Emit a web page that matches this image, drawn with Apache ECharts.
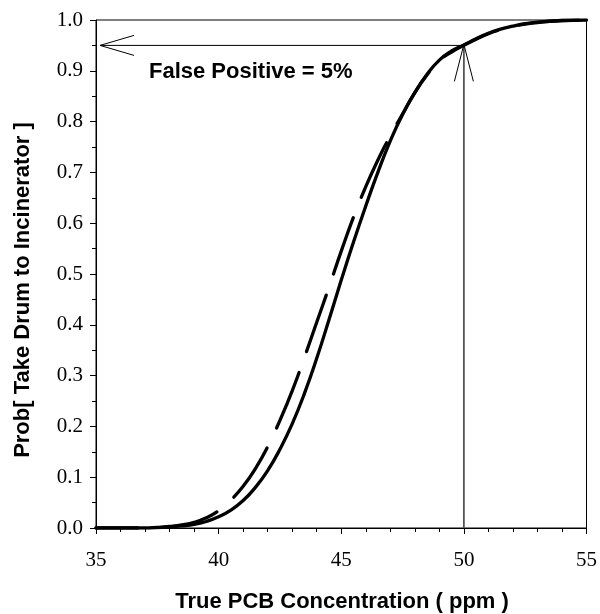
<!DOCTYPE html>
<html>
<head>
<meta charset="utf-8">
<script src="https://cdn.jsdelivr.net/npm/echarts@6/dist/echarts.min.js"></script>
<style>
html,body{margin:0;padding:0;background:#fff;}
#chart{width:600px;height:614px;}
</style>
</head>
<body>
<div id="chart"></div>
<script>
// True PCB concentration (ppm)
const concentration = [35,36,37,37.5,38,38.5,39,39.5,40,40.5,41,41.5,42,42.5,43,43.5,44,44.5,45,45.5,46,46.5,47,47.5,48,48.5,49,49.5,50,50.5,51,51.5,52,52.5,53,54,55];
// Solid curve: Prob[take drum to incinerator]
const probSolid = [0,0,0,0.001,0.002,0.004,0.007,0.013,0.022,0.035,0.054,0.08,0.113,0.155,0.205,0.265,0.334,0.41,0.488,0.563,0.634,0.701,0.762,0.814,0.857,0.893,0.921,0.939,0.951,0.963,0.974,0.982,0.988,0.993,0.996,0.999,1.0];
// Dashed curve
const probDashed = [0,0,0,0.001,0.003,0.006,0.011,0.02,0.034,0.055,0.082,0.117,0.16,0.212,0.27,0.336,0.405,0.474,0.545,0.612,0.672,0.725,0.772,0.815,0.857,0.892,0.92,0.937,0.95,0.962,0.973,0.981,0.987,0.992,0.995,0.999,1.0];
// Annotation
const fpConc = 50;
const fpProb = 0.95;
const fpText = 'False Positive = 5%';
const xTitle = 'True PCB Concentration ( ppm )';
const yTitle = 'Prob[ Take Drum to Incinerator ]';

const solidData = concentration.map((x, i) => [x, probSolid[i]]);
const dashedData = concentration.map((x, i) => [x, probDashed[i]]);

const chart = echarts.init(document.getElementById('chart'), null, {renderer: 'canvas'});
const serif = 'Liberation Serif, Times New Roman, serif';
const sans = 'Liberation Sans, Arial, Helvetica, sans-serif';

chart.setOption({
  animation: false,
  backgroundColor: '#fff',
  grid: {left: 96, right: 11, top: 20, bottom: 86, show: true, borderColor: '#000', borderWidth: 1},
  xAxis: {
    type: 'value', min: 35, max: 55, interval: 5,
    axisLine: {show: true, lineStyle: {color: '#000', width: 1}},
    axisTick: {show: true, length: 6, lineStyle: {color: '#000'}},
    minorTick: {show: true, splitNumber: 5, length: 4, lineStyle: {color: '#000'}},
    splitLine: {show: false},
    axisLabel: {color: '#000', fontFamily: serif, fontSize: 21, margin: 22}
  },
  yAxis: {
    type: 'value', min: 0, max: 1, interval: 0.1,
    axisLine: {show: true, lineStyle: {color: '#000', width: 1}},
    axisTick: {show: true, length: 6, lineStyle: {color: '#000'}},
    minorTick: {show: true, splitNumber: 2, length: 4, lineStyle: {color: '#000'}},
    splitLine: {show: false},
    axisLabel: {color: '#000', fontFamily: serif, fontSize: 21, margin: 13, formatter: v => v.toFixed(1)}
  },
  graphic: [
    {type: 'text', left: 149, top: 61, style: {text: fpText, font: 'bold 22px ' + sans, fill: '#000'}},
    {type: 'text', x: 342, y: 602, style: {text: xTitle, font: 'bold 22px ' + sans, fill: '#000', align: 'center', verticalAlign: 'middle'}},
    {type: 'text', x: 23, y: 290, rotation: Math.PI / 2, style: {text: yTitle, font: 'bold 22px ' + sans, fill: '#000', align: 'center', verticalAlign: 'middle'}}
  ],
  series: [
    {
      type: 'line', data: solidData, smooth: 0.5, showSymbol: false, symbol: 'none',
      lineStyle: {color: '#000', width: 3.3, cap: 'round', join: 'round'}
    },
    {
      type: 'line', data: dashedData, smooth: 0.5, showSymbol: false, symbol: 'none',
      lineStyle: {color: '#000', width: 3.3, type: [60, 22], dashOffset: 18, cap: 'round', join: 'round'}
    },
    {
      type: 'custom', data: [[fpConc, fpProb]], clip: false, silent: true, z: 1,
      renderItem: function (params, api) {
        const tip = api.coord([api.value(0), api.value(1)]);
        const base = api.coord([api.value(0), 0]);
        const leftEnd = api.coord([35, api.value(1)]);
        const lx = leftEnd[0] + 4;
        return {
          type: 'group',
          children: [
            {type: 'line', shape: {x1: base[0], y1: base[1], x2: tip[0], y2: tip[1]}, style: {stroke: '#555', lineWidth: 1.8}},
            {type: 'line', shape: {x1: tip[0], y1: tip[1], x2: lx, y2: tip[1]}, style: {stroke: '#000', lineWidth: 1}},
            {type: 'polyline', shape: {points: [[lx + 34, tip[1] - 10], [lx, tip[1]], [lx + 34, tip[1] + 10]]}, style: {stroke: '#000', lineWidth: 1, fill: null}},
            {type: 'polyline', shape: {points: [[tip[0] - 9.5, tip[1] + 36], [tip[0], tip[1] - 1], [tip[0] + 9.5, tip[1] + 36]]}, style: {stroke: '#000', lineWidth: 1, fill: null}}
          ]
        };
      }
    }
  ]
});
</script>
</body>
</html>
